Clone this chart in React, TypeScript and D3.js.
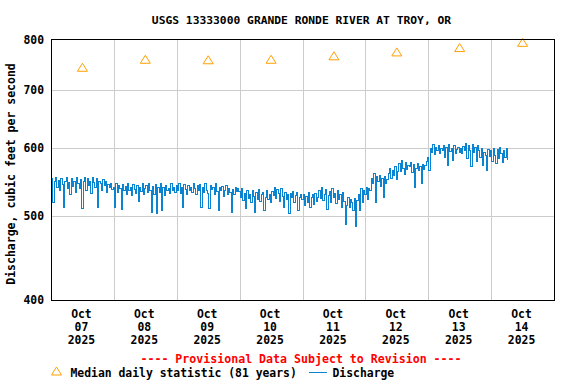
import * as d3 from 'd3';

const TITLE = 'USGS 13333000 GRANDE RONDE RIVER AT TROY, OR';
const Y_LABEL = 'Discharge, cubic feet per second';
const PROVISIONAL = '---- Provisional Data Subject to Revision ----';
const MEDIAN_LABEL = 'Median daily statistic (81 years)';
const DISCHARGE_LABEL = 'Discharge';

const DAY_LABELS = ['07', '08', '09', '10', '11', '12', '13', '14'];
const YEAR_LABEL = '2025';
const MEDIANS = [743, 759, 758, 759, 766, 774, 783, 794];
const Y_TICKS = [400, 500, 600, 700, 800];

// half-hourly readings, starting Oct 07 00:00
const OCT07 = [
  545, 552, 518, 548, 554, 540, 550, 536, 553, 544, 511, 549, 554, 538, 547, 530, 552, 541, 549, 533, 554, 546, 538, 551,
  510, 548, 554, 536, 552, 543, 549, 531, 554, 547, 540, 552, 512, 549, 545, 535, 551, 542, 548, 532, 544, 539, 546, 537,
];
const OCT08 = [
  540, 512, 545, 533, 542, 538, 509, 544, 536, 541, 530, 546, 535, 539, 528, 544, 537, 531, 543, 520, 540, 534, 545, 529,
  538, 542, 532, 546, 536, 505, 541, 530, 544, 504, 539, 533, 545, 507, 540, 528, 543, 535, 538, 531, 545, 536, 540, 533,
];
const OCT09 = [
  542, 535, 546, 531, 540, 511, 544, 537, 529, 543, 536, 540, 532, 545, 538, 530, 542, 535, 544, 512, 539, 533, 546, 536,
  531, 510, 543, 537, 540, 529, 545, 534, 508, 539, 535, 541, 527, 536, 543, 530, 538, 532, 505, 537, 529, 540, 534, 538,
];
const OCT10 = [
  534, 526, 538, 521, 531, 510, 535, 524, 530, 519, 536, 527, 505, 532, 523, 537, 520, 529, 533, 508, 526, 535, 522, 530,
  518, 534, 528, 539, 524, 537, 531, 520, 538, 527, 511, 533, 522, 529, 504, 531, 525, 534, 519, 528, 532, 507, 526, 530,
];
const OCT11 = [
  522, 530, 514, 527, 519, 532, 511, 525, 529, 516, 531, 520, 526,
  535, 524, 539, 521, 530, 537, 509, 528, 534, 519, 538, 526, 531, 517, 536, 523, 529, 512, 532,
  520, 489, 515, 525, 511, 522, 518, 507, 524, 487, 521,
  530, 508, 538, 519, 536,
];
const OCT12 = [
  530, 540, 522, 538, 535,
  552, 545, 560, 519, 555,
  548, 557, 541, 553, 525, 556, 545, 551,
  560, 568, 553, 565, 557, 570, 551, 563,
  575, 563, 580, 568, 558, 577, 566, 572,
  570, 576, 562, 573, 540, 568, 575, 564, 571, 545, 574, 566, 572,
  578,
];
const OCT13 = [
  585, 565,
  598, 592, 605, 589, 600, 595, 604, 590, 599, 596,
  603, 585, 600, 572, 605, 594, 598, 580, 604, 591, 597,
  600, 593, 598, 590, 602, 595,
  606, 583, 604, 596, 570, 605, 592, 600, 578, 603,
  595, 585, 599, 572, 592, 588, 565, 597, 586,
];
const OCT14 = [596, 578, 599, 588, 575, 597, 583, 600, 590, 576, 595, 585, 598, 581];

const DISCHARGE = [...OCT07, ...OCT08, ...OCT09, ...OCT10, ...OCT11, ...OCT12, ...OCT13, ...OCT14];

const WIDTH = 576;
const HEIGHT = 384;
const FONT = '"DejaVu Sans Mono", "Liberation Mono", monospace';
const BLUE = '#0a84d0';
const ORANGE = '#ffa000';
const GRID = '#cccccc';

const start = new Date(2025, 9, 7);
const end = new Date(2025, 9, 15);
const HALF_HOUR = 30 * 60 * 1000;

const x = d3.scaleTime().domain([start, end]).range([51, 554]);
const y = d3.scaleLog().domain([400, 800]).range([300, 39.5]);

const triangle = (cx: number, cy: number) => `M${cx},${cy - 4}L${cx + 5},${cy + 4}L${cx - 5},${cy + 4}Z`;

export default function App() {
  const days = d3.timeDay.range(start, end);
  const midnights = days.slice(1);

  const line = d3
    .line<number>()
    .x((_, i) => x(new Date(start.getTime() + i * HALF_HOUR)))
    .y((v) => y(v))
    .curve(d3.curveStep);

  return (
    <svg
      width={WIDTH}
      height={HEIGHT}
      viewBox={`0 0 ${WIDTH} ${HEIGHT}`}
      style={{ position: 'absolute', left: 0, top: 0, background: '#fff' }}
      fontFamily={FONT}
      fontWeight="bold"
      fontSize={11.4}
    >
      <rect width={WIDTH} height={HEIGHT} fill="#fff" />

      <text x={301.5} y={24} textAnchor="middle" fontSize={11.3} fill="#000">
        {TITLE}
      </text>

      {/* grid */}
      <g stroke={GRID} strokeWidth={1} shapeRendering="crispEdges">
        {Y_TICKS.slice(1, -1).map((t) => (
          <line key={t} x1={51} x2={554} y1={Math.round(y(t)) + 0.5} y2={Math.round(y(t)) + 0.5} />
        ))}
        {midnights.map((d) => (
          <line key={+d} x1={Math.round(x(d)) + 0.5} x2={Math.round(x(d)) + 0.5} y1={39.5} y2={300} />
        ))}
      </g>

      {/* discharge */}
      <path d={line(DISCHARGE) ?? ''} fill="none" stroke={BLUE} strokeWidth={1} shapeRendering="crispEdges" />

      {/* medians */}
      {MEDIANS.map((m, i) => (
        <path
          key={i}
          d={triangle(x(d3.timeHour.offset(days[i], 12)), y(m))}
          fill="none"
          stroke={ORANGE}
          strokeWidth={1}
        />
      ))}

      {/* frame */}
      <rect x={51.5} y={39.5} width={503} height={260.5} fill="none" stroke="#000" strokeWidth={1} shapeRendering="crispEdges" />

      {/* y ticks */}
      {Y_TICKS.map((t) => (
        <text key={t} x={44} y={y(t) + 4} textAnchor="end" fill="#000">
          {t}
        </text>
      ))}

      <text
        transform={`translate(15,174) rotate(-90)`}
        textAnchor="middle"
        fontSize={11.5}
        fill="#000"
      >
        {Y_LABEL}
      </text>

      {/* x labels */}
      {days.map((d, i) => {
        const cx = x(d3.timeHour.offset(d, 12)) - 1;
        return (
          <g key={+d} fill="#000" textAnchor="middle">
            <text x={cx} y={318}>Oct</text>
            <text x={cx} y={331}>{DAY_LABELS[i]}</text>
            <text x={cx} y={344}>{YEAR_LABEL}</text>
          </g>
        );
      })}

      <text x={301} y={363} textAnchor="middle" fill="#ff0000" fontSize={11.6}>
        {PROVISIONAL}
      </text>

      {/* legend */}
      <path d={triangle(56.5, 371)} fill="none" stroke={ORANGE} strokeWidth={1} />
      <text x={70.5} y={377} fill="#000">
        {MEDIAN_LABEL}
      </text>
      <line x1={309} x2={327} y1={372.5} y2={372.5} stroke={BLUE} strokeWidth={1} />
      <text x={332.5} y={377} fill="#000">
        {DISCHARGE_LABEL}
      </text>
    </svg>
  );
}
